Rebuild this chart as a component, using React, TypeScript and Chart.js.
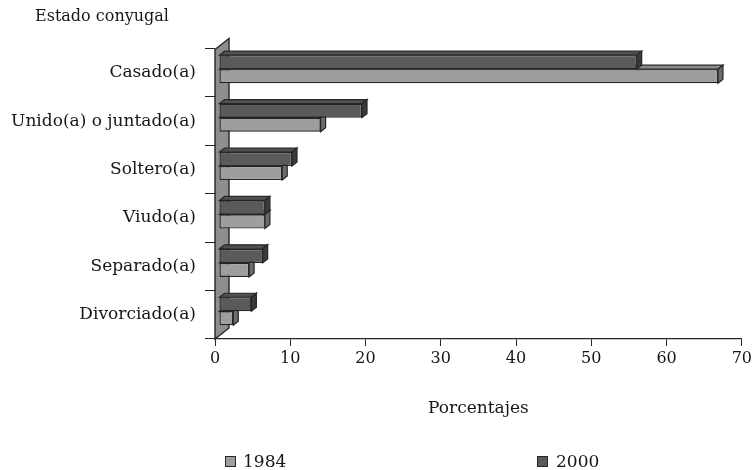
import React, { useEffect, useRef } from "react";
import { Chart, registerables } from "chart.js";

Chart.register(...registerables);

// ---- data ----
const categories = [
  "Casado(a)",
  "Unido(a) o juntado(a)",
  "Soltero(a)",
  "Viudo(a)",
  "Separado(a)",
  "Divorciado(a)",
];
const seriesNames = ["1984", "2000"];
const values1984 = [66.3, 13.5, 8.4, 6.1, 4.0, 1.9];
const values2000 = [55.5, 19.0, 9.7, 6.1, 5.8, 4.3];
const xTickValues = [0, 10, 20, 30, 40, 50, 60, 70];
const yTitle = "Estado conyugal";
const xTitle = "Porcentajes";

// ---- styles ----
const FONT = "'DejaVu Serif', serif";
const TEXT = "#161616";
const LINE = "#262626";
const DX = 5;
const DY = -4;
const SHIFT_X = 4;
const SHIFT_Y = -3.5;
const faces: Record<string, { front: string; top: string; side: string }> = {
  "1984": { front: "#9e9e9e", top: "#8c8c8c", side: "#6c6c6c" },
  "2000": { front: "#5a5a5a", top: "#505050", side: "#3a3a3a" },
};

const threeD = {
  id: "threeD",
  beforeDatasetsDraw(chart: any) {
    const { ctx, chartArea: a } = chart;
    ctx.save();
    ctx.beginPath();
    ctx.moveTo(a.left, a.top + 1);
    ctx.lineTo(a.left + 14, a.top - 10);
    ctx.lineTo(a.left + 14, a.bottom - 11);
    ctx.lineTo(a.left, a.bottom);
    ctx.closePath();
    ctx.fillStyle = "#8e8e8e";
    ctx.fill();
    ctx.strokeStyle = LINE;
    ctx.lineWidth = 1.4;
    ctx.stroke();
    ctx.restore();
    ctx.save();
    ctx.translate(SHIFT_X, SHIFT_Y);
  },
  afterDatasetDraw(chart: any, args: any) {
    const { ctx } = chart;
    const ds = chart.data.datasets[args.index];
    const f = faces[ds.label];
    args.meta.data.forEach((bar: any) => {
      const { x, y, base, height } = bar.getProps(["x", "y", "base", "height"], true);
      const top = y - height / 2;
      const bottom = y + height / 2;
      const left = Math.min(base, x);
      const right = Math.max(base, x);
      ctx.save();
      ctx.strokeStyle = LINE;
      ctx.lineWidth = 1.2;
      ctx.lineJoin = "miter";
      ctx.beginPath();
      ctx.moveTo(left, top);
      ctx.lineTo(left + DX, top + DY);
      ctx.lineTo(right + DX, top + DY);
      ctx.lineTo(right, top);
      ctx.closePath();
      ctx.fillStyle = f.top;
      ctx.fill();
      ctx.stroke();
      ctx.beginPath();
      ctx.moveTo(right, top);
      ctx.lineTo(right + DX, top + DY);
      ctx.lineTo(right + DX, bottom + DY);
      ctx.lineTo(right, bottom);
      ctx.closePath();
      ctx.fillStyle = f.side;
      ctx.fill();
      ctx.stroke();
      ctx.restore();
    });
  },
  afterDatasetsDraw(chart: any) {
    chart.ctx.restore();
  },
  afterDraw(chart: any) {
    const { ctx } = chart;
    ctx.save();
    ctx.font = `16px ${FONT}`;
    ctx.fillStyle = TEXT;
    ctx.textAlign = "left";
    ctx.textBaseline = "middle";
    ctx.fillText(yTitle, 35, 17);
    ctx.restore();
  },
};

export default function App() {
  const ref = useRef<HTMLCanvasElement>(null);
  useEffect(() => {
    if (!ref.current) return;
    const mk = (name: string, data: number[]) => ({
      label: name,
      data,
      backgroundColor: faces[name].front,
      borderColor: LINE,
      borderWidth: 1.3,
      borderSkipped: false as const,
      barPercentage: 1,
      categoryPercentage: 0.58,
      clip: false as const,
    });
    const chart = new Chart(ref.current, {
      type: "bar",
      data: {
        labels: categories,
        datasets: [mk(seriesNames[1], values2000), mk(seriesNames[0], values1984)],
      },
      plugins: [threeD],
      options: {
        indexAxis: "y",
        animation: false,
        responsive: true,
        maintainAspectRatio: false,
        layout: { padding: { left: 0, right: 13, top: 48.5, bottom: 51 } },
        plugins: { legend: { display: false }, tooltip: { enabled: false }, title: { display: false } },
        scales: {
          y: {
            type: "category",
            afterFit: (s: any) => {
              s.width = 215;
            },
            grid: {
              display: true,
              drawOnChartArea: false,
              drawTicks: true,
              tickLength: 10,
              color: LINE,
              offset: true,
            },
            border: { display: false },
            ticks: { color: TEXT, font: { family: FONT, size: 17 }, padding: 9 },
          },
          x: {
            type: "linear",
            min: 0,
            max: 70,
            afterFit: (s: any) => {
              s.height = 80;
            },
            afterBuildTicks: (s: any) => {
              s.ticks = xTickValues.map((v) => ({ value: v }));
            },
            grid: { display: true, drawOnChartArea: false, drawTicks: true, tickLength: 7, color: LINE },
            border: { display: true, color: LINE, width: 1.3 },
            ticks: { color: TEXT, font: { family: FONT, size: 16 }, padding: 3 },
            title: {
              display: true,
              text: xTitle,
              color: TEXT,
              font: { family: FONT, size: 17 },
              padding: { top: 0, bottom: 0 },
            },
          },
        },
      },
    });
    return () => chart.destroy();
  }, []);

  const legendItems = [
    { name: seriesNames[0], box: 225, text: 243 },
    { name: seriesNames[1], box: 537, text: 556 },
  ];

  return (
    <div style={{ position: "fixed", left: 0, top: 0, width: 755, height: 470, background: "#fff" }}>
      <canvas ref={ref} />
      {legendItems.map((it) => (
        <React.Fragment key={it.name}>
          <div
            style={{
              position: "absolute",
              left: it.box,
              top: 456,
              width: 11,
              height: 11,
              boxSizing: "border-box",
              border: `1.3px solid ${LINE}`,
              background: faces[it.name].front,
            }}
          />
          <span
            style={{
              position: "absolute",
              left: it.text,
              top: 461,
              transform: "translateY(-50%)",
              font: `17px ${FONT}`,
              lineHeight: 1,
              color: TEXT,
            }}
          >
            {it.name}
          </span>
        </React.Fragment>
      ))}
    </div>
  );
}
